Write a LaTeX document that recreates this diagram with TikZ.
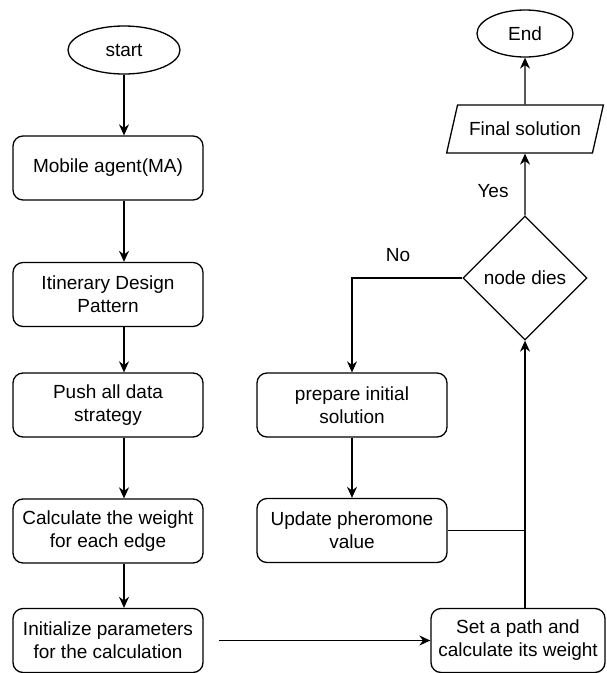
\documentclass[tikz,border=0pt]{standalone}
\usepackage{fontspec}
\setmainfont{Liberation Sans}
\usetikzlibrary{shapes.geometric,arrows.meta,calc}
\begin{document}
\begin{tikzpicture}[x=1pt,y=-1pt,
  every node/.style={font=\fontsize{19}{23}\selectfont, text=black, inner sep=0pt, align=center},
  box/.style={draw, line width=1.3pt, rounded corners=10pt, minimum width=190pt, minimum height=64pt},
  term/.style={draw, line width=1.3pt, ellipse},
  dec/.style={draw, line width=1.3pt, diamond, minimum width=124pt, minimum height=124pt},
  io/.style={draw, line width=1.3pt, trapezium, trapezium left angle=57, trapezium right angle=123, trapezium stretches=true, minimum width=157pt, minimum height=48pt},
  lbl/.style={font=\fontsize{19}{23}\selectfont},
  arr/.style={line width=1.3pt, -{Stealth[length=11pt,width=10pt]}},
  ln/.style={line width=1.3pt}
]
\useasboundingbox (0,0) rectangle (607,673);
% left column
\node[term, minimum width=112pt, minimum height=48pt] (start) at (124,50) {start};
\node[box] (ma) at (108,168) {Mobile agent(MA)};
\node[box] (idp) at (108,294.5) {Itinerary Design\\Pattern};
\node[box] (push) at (108,405) {Push all data\\strategy};
\node[box] (calc) at (108,531) {Calculate the weight\\for each edge};
\node[box] (init) at (108,640.5) {Initialize parameters\\for the calculation};
% right column
\node[box] (prep) at (352,405) {prepare initial\\solution};
\node[box] (upd) at (352,530.5) {Update pheromone\\value};
\node[box, minimum width=174pt] (setp) at (518,640.5) {Set a path and\\calculate its weight};
\node[dec] (dia) at (525,278) {node dies};
\node[io] (fin) at (525,129) {Final solution};
\node[term, minimum width=96pt, minimum height=47pt] (end) at (525,33.5) {End};
% labels
\node[lbl] (no) at (398,255) {No};
\node[lbl] (yes) at (493,191) {Yes};
% connectors
\draw[arr] (start.south) -- (start.south |- ma.north);
\draw[arr] (ma.south -| start.south) -- (idp.north -| start.south);
\draw[arr] (idp.south -| start.south) -- (push.north -| start.south);
\draw[arr] (push.south -| start.south) -- (calc.north -| start.south);
\draw[arr] (calc.south -| start.south) -- (init.north -| start.south);
\draw[arr] ([xshift=15pt]init.east) -- (setp.west);
\draw[arr] (setp.north -| dia.south) -- (dia.south);
\draw[ln] (upd.east) -- (upd.east -| dia.south);
\draw[arr] (dia.west) -| (prep.north);
\draw[arr] (prep.south) -- (upd.north);
\draw[arr] (dia.north) -- (fin.south);
\draw[arr] (fin.north) -- (end.south);
\end{tikzpicture}
\end{document}
